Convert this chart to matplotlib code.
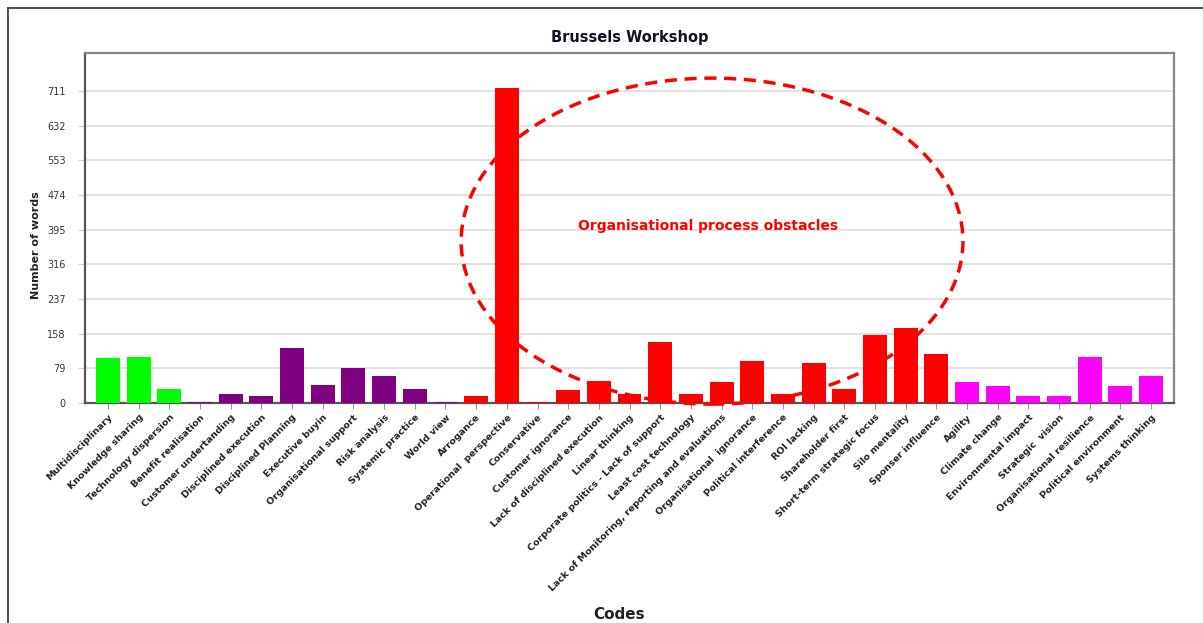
import matplotlib
matplotlib.use("Agg")
import matplotlib.pyplot as plt
from matplotlib.patches import Ellipse
from matplotlib.lines import Line2D
import numpy as np

# codes and word counts
codes = ["Multidisciplinary", "Knowledge sharing", "Technology dispersion",
         "Benefit realisation", "Customer undertanding", "Disciplined execution",
         "Disciplined Planning", "Executive buyin", "Organisational support",
         "Risk analysis", "Systemic practice", "World view", "Arrogance",
         "Operational  perspective", "Conservative", "Customer ignorance",
         "Lack of disciplined execution", "Linear thinking",
         "Corporate politics - Lack of support", "Least cost technology",
         "Lack of Monitoring, reporting and evaluations",
         "Organisational  ignorance", "Political interference", "ROI lacking",
         "Shareholder first", "Short-term strategic focus", "Silo mentality",
         "Sponser influence", "Agility", "Climate change",
         "Environmental impact", "Strategic  vision",
         "Organisational resilience", "Political environment",
         "Systems thinking"]
words = [103, 105, 33, 2, 21, 16, 126, 42, 80, 62, 33, 2, 16,
         718, 2, 30, 50, 21, 140, 21, 48, 96, 21, 91, 33,
         156, 172, 111, 48, 39, 16, 16, 106, 39, 62]
# group of each code: 0 green, 1 purple, 2 red, 3 magenta
groups = [0] * 3 + [1] * 9 + [2] * 16 + [3] * 7
group_colors = ['#00ff00', '#800080', '#ff0000', '#ff00ff']

yticks = [0, 79, 158, 237, 316, 395, 474, 553, 632, 711]

fig = plt.figure(figsize=(12.03, 6.23), dpi=100)
ax = fig.add_axes([0.0707, 0.3531, 0.9052, 0.5613])

x = np.arange(len(codes))
colors = [group_colors[g] for g in groups]
ax.bar(x, words, width=0.78, color=colors, zorder=3)

ax.set_xlim(-0.75, len(codes) - 0.25)
ax.set_ylim(0, 797)
ax.set_yticks(yticks)
ax.set_yticklabels([str(t) for t in yticks], fontsize=7, color='#333344')
ax.set_xticks(x)
ax.set_xticklabels(codes, rotation=45, ha='right', rotation_mode='anchor',
                   fontsize=6.8, fontweight='bold', color='#222222')
ax.tick_params(axis='y', length=5, color='#cccccc', pad=9)
ax.tick_params(axis='x', length=4, color='#999999', pad=3)
ax.yaxis.grid(True, color='#dddddd', linewidth=1.2, zorder=0)

for side in ['left', 'bottom']:
    ax.spines[side].set_color('#555555')
    ax.spines[side].set_linewidth(1.6)
for side in ['top', 'right']:
    ax.spines[side].set_color('#888888')
    ax.spines[side].set_linewidth(1.6)

ax.set_title("Brussels Workshop", fontsize=10.5, fontweight='bold',
             color='#111122', pad=8)
fig.text(0.03, 0.607, "Number of words", rotation=90, ha='center', va='center',
         fontsize=8, fontweight='bold', color='#222222')
fig.text(0.515, 0.013, "Codes", ha='center', va='center',
         fontsize=11, fontweight='bold', color='#222222')

# dashed ellipse around the process obstacles
ell = Ellipse((19.69, 369), 16.36, 743, fill=False, edgecolor='red',
              linewidth=2.5, linestyle=(0, (3.5, 2.2)), clip_on=False, zorder=4)
ax.add_patch(ell)
ax.text(19.56, 403, "Organisational process obstacles", color='red',
        fontsize=10, fontweight='bold', ha='center', va='center', zorder=5)

# outer frame of the original screenshot
fig.add_artist(Line2D([8 / 1203, 1], [1 - 8 / 623, 1 - 8 / 623],
                      transform=fig.transFigure, color='#333333', linewidth=1.2))
fig.add_artist(Line2D([8 / 1203, 8 / 1203], [0, 1 - 8 / 623],
                      transform=fig.transFigure, color='#333333', linewidth=1.2))

fig.savefig("out.png", dpi=100)
